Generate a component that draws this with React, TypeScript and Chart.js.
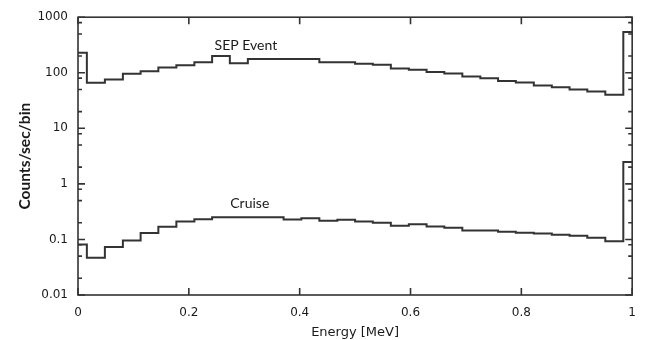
import React, { useEffect, useRef } from 'react';
import { Chart, registerables } from 'chart.js';

Chart.register(...registerables);

// Bin centres (MeV)
const binCenters = [
  0, 0.032, 0.065, 0.097, 0.129, 0.161, 0.194, 0.226, 0.258, 0.29, 0.323,
  0.355, 0.387, 0.419, 0.452, 0.484, 0.516, 0.548, 0.581, 0.613, 0.645,
  0.677, 0.71, 0.742, 0.774, 0.806, 0.839, 0.871, 0.903, 0.935, 0.968, 1,
];

// Counts/sec/bin
const sepEvent = [
  230, 66, 76, 96, 107, 124, 137, 155, 201, 149, 176, 176, 176, 176, 155,
  155, 145, 139, 119, 113, 103, 97, 86, 80, 71, 67, 59, 55, 50, 46, 40, 540,
];
const cruise = [
  0.081, 0.047, 0.073, 0.096, 0.13, 0.17, 0.21, 0.23, 0.25, 0.25, 0.25,
  0.25, 0.228, 0.24, 0.218, 0.225, 0.21, 0.199, 0.176, 0.1875, 0.171, 0.162,
  0.145, 0.145, 0.137, 0.132, 0.128, 0.121, 0.1165, 0.107, 0.093, 2.47,
];

const xTicks = [0, 0.2, 0.4, 0.6, 0.8, 1];
const xTickLabels = ['0', '0.2', '0.4', '0.6', '0.8', '1'];
const yTicks = [0.01, 0.1, 1, 10, 100, 1000];
const yTickLabels = ['0.01', '0.1', '1', '10', '100', '1000'];
const yMinorFactors = [2, 5, 8];

const seriesNames = ['SEP Event', 'Cruise'];
const labelX = [0.303, 0.31];
const labelY = [304, 0.445];

const INK = '#333333';
const TEXT = '#1a1a1a';

const framePlugin = {
  id: 'frameTicks',
  afterDatasetsDraw(chart: any) {
    const { ctx, chartArea, scales } = chart;
    const { left, right, top, bottom } = chartArea;
    const xs = scales.x;
    const ys = scales.y;
    ctx.save();
    ctx.strokeStyle = INK;
    ctx.lineWidth = 1.6;
    ctx.strokeRect(left, top, right - left, bottom - top);
    ctx.beginPath();
    xTicks.forEach((v) => {
      const px = xs.getPixelForValue(v);
      ctx.moveTo(px, bottom);
      ctx.lineTo(px, bottom - 7);
      ctx.moveTo(px, top);
      ctx.lineTo(px, top + 7);
    });
    yTicks.forEach((v) => {
      const py = ys.getPixelForValue(v);
      ctx.moveTo(left, py);
      ctx.lineTo(left + 7, py);
      ctx.moveTo(right, py);
      ctx.lineTo(right - 7, py);
    });
    yTicks.slice(0, -1).forEach((d) => {
      yMinorFactors.forEach((f) => {
        const py = ys.getPixelForValue(d * f);
        ctx.moveTo(left, py);
        ctx.lineTo(left + 4, py);
        ctx.moveTo(right, py);
        ctx.lineTo(right - 4, py);
      });
    });
    ctx.stroke();

    ctx.fillStyle = TEXT;
    ctx.font = '14px Lato, "Open Sans", sans-serif';
    ctx.textAlign = 'center';
    ctx.textBaseline = 'middle';
    seriesNames.forEach((name, i) => {
      ctx.fillText(name, xs.getPixelForValue(labelX[i]), ys.getPixelForValue(labelY[i]));
    });
    ctx.restore();
  },
};

export default function App() {
  const canvasRef = useRef<HTMLCanvasElement | null>(null);

  useEffect(() => {
    document.body.style.margin = '0';
    const canvas = canvasRef.current;
    if (!canvas) return;
    const chart = new Chart(canvas, {
      type: 'line',
      data: {
        datasets: [
          {
            label: seriesNames[0],
            data: binCenters.map((x, i) => ({ x, y: sepEvent[i] })),
            stepped: 'middle',
            borderColor: INK,
            borderWidth: 2,
            pointRadius: 0,
            fill: false,
          },
          {
            label: seriesNames[1],
            data: binCenters.map((x, i) => ({ x, y: cruise[i] })),
            stepped: 'middle',
            borderColor: INK,
            borderWidth: 2,
            pointRadius: 0,
            fill: false,
          },
        ],
      },
      options: {
        responsive: false,
        animation: false,
        devicePixelRatio: 1,
        layout: { padding: { left: 0, right: 14, top: 14, bottom: 0 } },
        plugins: {
          legend: { display: false },
          tooltip: { enabled: false },
        },
        scales: {
          x: {
            type: 'linear',
            min: 0,
            max: 1,
            grid: { display: false, drawTicks: false },
            border: { display: false },
            afterBuildTicks: (scale: any) => {
              scale.ticks = xTicks.map((v) => ({ value: v }));
            },
            afterFit: (scale: any) => {
              scale.height = 45;
            },
            ticks: {
              padding: 11,
              color: TEXT,
              font: { family: '"DejaVu Sans", Verdana, sans-serif', size: 12 },
              maxRotation: 0,
              callback: (v: any) => {
                const i = xTicks.indexOf(Number(v));
                return i >= 0 ? xTickLabels[i] : '';
              },
            },
            title: {
              display: true,
              text: 'Energy [MeV]',
              color: TEXT,
              font: { family: '"DejaVu Sans", Verdana, sans-serif', size: 13 },
              padding: { top: 4, bottom: 0 },
            },
          },
          y: {
            type: 'logarithmic',
            min: 0.01,
            max: 1000,
            grid: { display: false, drawTicks: false },
            border: { display: false },
            afterBuildTicks: (scale: any) => {
              scale.ticks = yTicks.map((v) => ({ value: v }));
            },
            afterFit: (scale: any) => {
              scale.width = 78;
            },
            ticks: {
              padding: 10,
              color: TEXT,
              font: { family: '"DejaVu Sans", Verdana, sans-serif', size: 12 },
              callback: (v: any) => {
                const i = yTicks.findIndex((t) => Math.abs(t - Number(v)) < t * 1e-6);
                return i >= 0 ? yTickLabels[i] : '';
              },
            },
            title: {
              display: true,
              text: 'Counts/sec/bin',
              color: TEXT,
              font: { family: 'Lato, "Open Sans", sans-serif', size: 15.5, weight: 'bold' },
              padding: { top: 16, bottom: 0 },
            },
          },
        },
      },
      plugins: [framePlugin],
    } as any);
    return () => chart.destroy();
  }, []);

  return (
    <div style={{ width: 647, height: 340 }}>
      <canvas ref={canvasRef} width={647} height={340} style={{ display: 'block' }} />
    </div>
  );
}
